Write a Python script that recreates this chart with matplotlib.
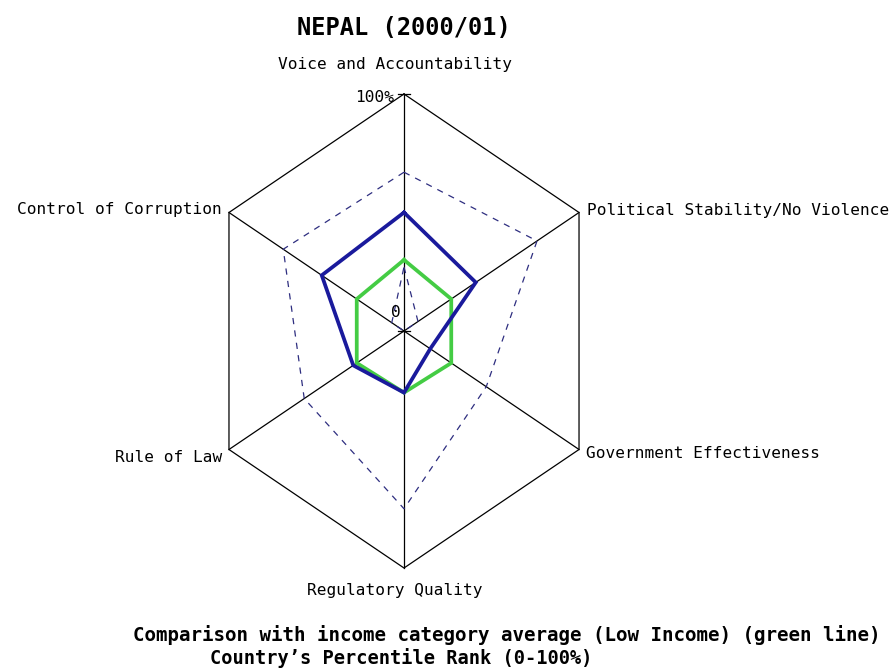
"""Governance indicator radar chart for Nepal (2000/01)."""
import numpy as np
import matplotlib
matplotlib.use("Agg")
import matplotlib.pyplot as plt

# ---- data (percentile ranks, 0-100) ----
indicators = [
    "Voice and Accountability",
    "Political Stability/No Violence",
    "Government Effectiveness",
    "Regulatory Quality",
    "Rule of Law",
    "Control of Corruption",
]
country_rank = [50, 41, 15, 26, 29, 47]
income_avg = [30, 27, 27, 26, 27, 27]
upper_bound = [67, 76, 47, 75, 57, 69]
lower_bound = [27, 8, 0, 0, 0, 7]

title = "NEPAL (2000/01)"
footer_1 = "Comparison with income category average (Low Income) (green line)"
footer_2 = "Country\u2019s Percentile Rank (0-100%)"

# ---- layout (pixels) ----
W, H = 893, 669
CX, CY = 404, 331          # chart centre
KX, KY = 2.021, 2.37       # pixels per percent unit, horizontal / vertical

FONT = "DejaVu Sans Mono"

angles = np.deg2rad(np.arange(len(indicators)) * 60.0)


def to_xy(values):
    v = np.asarray(values, dtype=float)
    x = v * np.sin(angles)
    y = v * np.cos(angles)
    return np.append(x, x[0]), np.append(y, y[0])


fig = plt.figure(figsize=(W / 100, H / 100), dpi=100)
ax = fig.add_axes([0, 0, 1, 1])
ax.set_xlim(-CX / KX, (W - CX) / KX)
ax.set_ylim(-(H - CY) / KY, CY / KY)
ax.set_aspect("auto")
ax.axis("off")

# frame and spokes
hx, hy = to_xy([100] * len(indicators))
ax.plot(hx, hy, color="black", lw=0.9)
for a in angles:
    ax.plot([0, 100 * np.sin(a)], [0, 100 * np.cos(a)], color="black", lw=0.9)
# small ticks on the vertical axis
for r in (0, 100):
    ax.plot([-3, 3], [r, r], color="black", lw=0.9)

# series
dash = dict(color="#2e2e80", lw=0.9, dashes=(5, 5))
ax.plot(*to_xy(upper_bound), **dash)
ax.plot(*to_xy(lower_bound), **dash)
ax.plot(*to_xy(income_avg), color="#44cc44", lw=2.7, solid_joinstyle="miter")
ax.plot(*to_xy(country_rank), color="#1a1a9c", lw=2.7, solid_joinstyle="miter")

# axis labels
label_style = [
    ((-9, 29), "center", "center"),
    ((8, 2), "left", "center"),
    ((7, -4), "left", "center"),
    ((-9, -22), "center", "center"),
    ((-7, -8), "right", "center"),
    ((-7, 3), "right", "center"),
]
for name, a, (off, ha, va) in zip(indicators, angles, label_style):
    ax.annotate(name, (100 * np.sin(a), 100 * np.cos(a)), xytext=off,
                textcoords="offset pixels", ha=ha, va=va,
                family=FONT, fontsize=11.6)

ax.annotate("100%", (0, 100), xytext=(-10, -3), textcoords="offset pixels",
            ha="right", va="center", family=FONT, fontsize=11.6)
ax.annotate("0", (0, 0), xytext=(-8, 19), textcoords="offset pixels",
            ha="center", va="center", family=FONT, fontsize=11.6)

fig.text(CX / W, 1 - 28 / H, title, ha="center", va="center",
         family=FONT, fontsize=17, fontweight="bold")
fig.text(133 / W, 1 - 635 / H, footer_1, ha="left", va="center",
         family=FONT, fontsize=13.75, fontweight="bold")
fig.text(210 / W, 1 - 658 / H, footer_2, ha="left", va="center",
         family=FONT, fontsize=13.45, fontweight="bold")

fig.savefig("out.png", dpi=100, facecolor="white")
